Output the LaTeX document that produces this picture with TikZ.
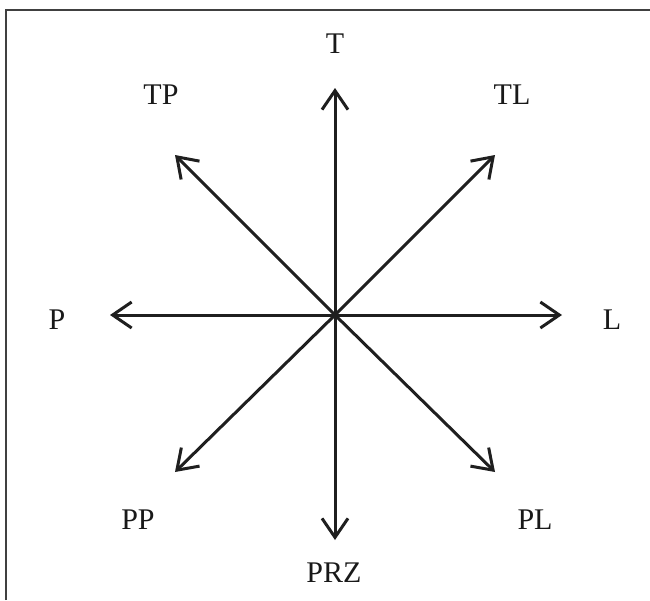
\documentclass[tikz,border=0pt]{standalone}
\usepackage{fontspec}
\setmainfont{Liberation Serif}
\usetikzlibrary{arrows.meta}
\begin{document}
\begin{tikzpicture}[x=1pt,y=-1pt,
  arr/.style={line width=3pt,draw=black!88,-{Straight Barb[length=19pt,width=26pt,line width=3pt]}},
  lab/.style={font=\fontsize{30}{31}\selectfont,text=black!90,inner sep=0pt},
  frame/.style={line width=2.5pt,draw=black!75}]
\useasboundingbox (0,0) rectangle (650,600);
\draw[frame] (6,600) -- (6,10) -- (650,10);
\coordinate (O) at (335,315);
\coordinate (tT) at (335,88);
\coordinate (tB) at (335,540);
\coordinate (tL) at (110,315);
\coordinate (tR) at (562,315);
\coordinate (tTR) at (495,155);
\coordinate (tTL) at (175,155);
\coordinate (tBL) at (175,472);
\coordinate (tBR) at (495,472);
\draw[arr] (O) -- (tT);
\draw[arr] (O) -- (tB);
\draw[arr] (O) -- (tL);
\draw[arr] (O) -- (tR);
\draw[arr] (O) -- (tTR);
\draw[arr] (O) -- (tTL);
\draw[arr] (O) -- (tBL);
\draw[arr] (O) -- (tBR);
\node[lab] (T) at (335,44) {T};
\node[lab] (TP) at (161,95) {TP};
\node[lab] (TL) at (512,95) {TL};
\node[lab] (P) at (57,320) {P};
\node[lab] (L) at (612,320) {L};
\node[lab] (PP) at (138,520) {PP};
\node[lab] (PL) at (535,520) {PL};
\node[lab] (PRZ) at (334,573) {PRZ};
\end{tikzpicture}
\end{document}
